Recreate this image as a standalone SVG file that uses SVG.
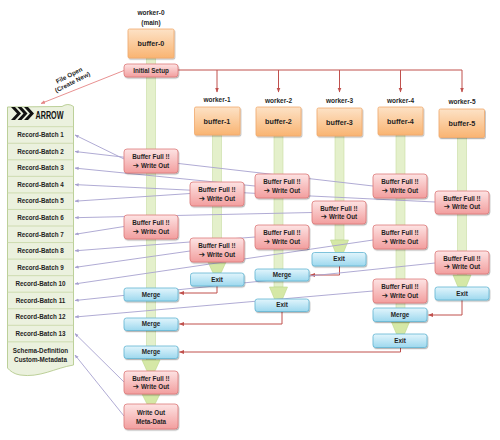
<svg xmlns="http://www.w3.org/2000/svg" width="500" height="440" viewBox="0 0 500 440">
<defs>
<style>
.lane{fill:#E4F0CB;stroke:#C8DDA0;stroke-width:0.6}
.head{fill:#D5E8A6;stroke:#BCD68A;stroke-width:0.6}
.buf rect{fill:url(#gO);stroke:#F0A86C;stroke-width:0.8;filter:url(#sh)}
.bf rect{fill:url(#gP);stroke:#DC7A7A;stroke-width:0.8;filter:url(#sh)}
.bl rect{fill:url(#gB);stroke:#5FB4D2;stroke-width:0.8;filter:url(#sh)}
.t{font-family:"Liberation Sans","DejaVu Sans",sans-serif;font-weight:bold;font-size:6.3px;fill:#1F1F1F;text-anchor:middle}
.tb{font-family:"Liberation Sans","DejaVu Sans",sans-serif;font-weight:bold;font-size:7.2px;fill:#1F1F1F;text-anchor:middle}
.tw{font-family:"Liberation Sans","DejaVu Sans",sans-serif;font-weight:bold;font-size:6.5px;fill:#1F1F1F;text-anchor:middle}
.ico{font-family:"DejaVu Sans",sans-serif;font-size:7.5px}
.red{stroke:#C0504D;stroke-width:1;fill:none}
.lav{stroke:#A7A1CF;stroke-width:0.9;fill:none}
.sep{stroke:#C6D7A4;stroke-width:0.8}
</style>
<linearGradient id="gO" x1="0" y1="0" x2="0" y2="1"><stop offset="0" stop-color="#FDE2C6"/><stop offset="1" stop-color="#F9B472"/></linearGradient>
<linearGradient id="gP" x1="0" y1="0" x2="0" y2="1"><stop offset="0" stop-color="#FDE3E3"/><stop offset="1" stop-color="#F29E9E"/></linearGradient>
<linearGradient id="gB" x1="0" y1="0" x2="0" y2="1"><stop offset="0" stop-color="#E2F5FC"/><stop offset="1" stop-color="#9DD8EE"/></linearGradient>
<filter id="sh" x="-10%" y="-20%" width="130%" height="170%"><feDropShadow dx="0.8" dy="1.2" stdDeviation="0.7" flood-color="#000" flood-opacity="0.3"/></filter>
<marker id="ar" viewBox="0 0 10 10" refX="9" refY="5" markerWidth="5" markerHeight="5" orient="auto"><path d="M0,1 L10,5 L0,9 z" fill="#C0504D"/></marker>
<marker id="ap" viewBox="0 0 10 10" refX="9" refY="5" markerWidth="5" markerHeight="5" orient="auto"><path d="M0,1 L10,5 L0,9 z" fill="#E58585"/></marker>
<marker id="al" viewBox="0 0 10 10" refX="9" refY="5" markerWidth="4.5" markerHeight="4.5" orient="auto"><path d="M0,1 L10,5 L0,9 z" fill="#A7A1CF"/></marker>
</defs>
<rect x="0" y="0" width="500" height="440" fill="#FFFFFF"/>

<g id="lanes">
<rect class="lane" x="146.5" y="58" width="9" height="302"/>
<polygon class="head" points="142,360 160,360 155,371 147,371"/>
<polygon class="head" points="142,394 160,394 155,404 147,404"/>
<rect class="lane" x="212.5" y="135" width="9" height="127"/>
<polygon class="head" points="208,262 226,262 221,273 213,273"/>
<rect class="lane" x="274" y="136" width="9" height="151"/>
<polygon class="head" points="269.5,287 287.5,287 282.5,299 274.5,299"/>
<rect class="lane" x="335" y="136" width="9" height="104"/>
<polygon class="head" points="330.5,240 348.5,240 343.5,252.5 335.5,252.5"/>
<rect class="lane" x="396" y="135" width="9" height="187"/>
<polygon class="head" points="391.5,322 409.5,322 404.5,334 396.5,334"/>
<rect class="lane" x="457.5" y="137" width="9" height="138"/>
<polygon class="head" points="453,275 471,275 466,287 458,287"/>
</g>

<g id="arrow-file">
<path d="M7.5,107 L62,106.5 Q68,102.5 73.5,106.5 L73.5,365 C55,368 40,378 20,375 C14,374 10,371 7.5,368 Z" fill="#EBF1DE" stroke="#B5CB8E" stroke-width="0.9"/>
<polygon points="11,107 15,107 21,113.5 15,120 11,120 17,113.5" fill="#111"/>
<polygon points="17.5,107 21.5,107 27.5,113.5 21.5,120 17.5,120 23.5,113.5" fill="#111"/>
<polygon points="24,107 28,107 34,113.5 28,120 24,120 30,113.5" fill="#111"/>
<text x="35.5" y="119" font-family="'Liberation Sans','DejaVu Sans',sans-serif" font-weight="bold" font-size="10.5" fill="#111" textLength="28" lengthAdjust="spacingAndGlyphs">ARROW</text>
<line class="sep" x1="7.5" y1="126.7" x2="73.5" y2="126.7"/>
<line class="sep" x1="7.5" y1="143.25" x2="73.5" y2="143.25"/>
<line class="sep" x1="7.5" y1="159.8" x2="73.5" y2="159.8"/>
<line class="sep" x1="7.5" y1="176.35" x2="73.5" y2="176.35"/>
<line class="sep" x1="7.5" y1="192.9" x2="73.5" y2="192.9"/>
<line class="sep" x1="7.5" y1="209.45" x2="73.5" y2="209.45"/>
<line class="sep" x1="7.5" y1="226" x2="73.5" y2="226"/>
<line class="sep" x1="7.5" y1="242.55" x2="73.5" y2="242.55"/>
<line class="sep" x1="7.5" y1="259.1" x2="73.5" y2="259.1"/>
<line class="sep" x1="7.5" y1="275.65" x2="73.5" y2="275.65"/>
<line class="sep" x1="7.5" y1="292.2" x2="73.5" y2="292.2"/>
<line class="sep" x1="7.5" y1="308.75" x2="73.5" y2="308.75"/>
<line class="sep" x1="7.5" y1="325.3" x2="73.5" y2="325.3"/>
<line class="sep" x1="7.5" y1="341.85" x2="73.5" y2="341.85"/>
<text class="t" x="40.5" y="137.2">Record-Batch 1</text>
<text class="t" x="40.5" y="153.7">Record-Batch 2</text>
<text class="t" x="40.5" y="170.3">Record-Batch 3</text>
<text class="t" x="40.5" y="186.8">Record-Batch 4</text>
<text class="t" x="40.5" y="203.4">Record-Batch 5</text>
<text class="t" x="40.5" y="219.9">Record-Batch 6</text>
<text class="t" x="40.5" y="236.5">Record-Batch 7</text>
<text class="t" x="40.5" y="253">Record-Batch 8</text>
<text class="t" x="40.5" y="269.6">Record-Batch 9</text>
<text class="t" x="40.5" y="286.1">Record-Batch 10</text>
<text class="t" x="40.5" y="302.7">Record-Batch 11</text>
<text class="t" x="40.5" y="319.2">Record-Batch 12</text>
<text class="t" x="40.5" y="335.8">Record-Batch 13</text>
<text class="t" x="40.5" y="353.2">Schema-Definition</text>
<text class="t" x="40.5" y="361.9">Custom-Metadata</text>
</g>

<g id="connectors">
<path class="red" d="M178,70 H462 V92" marker-end="url(#ar)"/>
<path class="red" d="M217,70 V92" marker-end="url(#ar)"/>
<path class="red" d="M278.5,70 V92" marker-end="url(#ar)"/>
<path class="red" d="M339.5,70 V92" marker-end="url(#ar)"/>
<path class="red" d="M400.5,70 V92" marker-end="url(#ar)"/>
<path class="red" d="M217,286 V293 H179.5" marker-end="url(#ar)"/>
<path class="red" d="M339.5,266 V275 H310.5" marker-end="url(#ar)"/>
<path class="red" d="M282,311.5 V324 H179.5" marker-end="url(#ar)"/>
<path class="red" d="M462,300 V315 H428.5" marker-end="url(#ar)"/>
<path class="red" d="M400.5,347.5 V352 H179.5" marker-end="url(#ar)"/>
<path d="M124,70.5 L41,103.5" stroke="#E58585" stroke-width="0.9" fill="none" marker-end="url(#ap)"/>
<g transform="translate(70.8,78.7) rotate(-27)">
<text class="t" x="0" y="-1.6">File Open</text>
<text class="t" x="0" y="6">(Create New)</text>
</g>
<path class="lav" d="M124,159 L75,135" marker-end="url(#al)"/>
<path class="lav" d="M373,186 L75,151.5" marker-end="url(#al)"/>
<path class="lav" d="M255,186 L75,168.1" marker-end="url(#al)"/>
<path class="lav" d="M435,202 L75,184.6" marker-end="url(#al)"/>
<path class="lav" d="M190,193.5 L75,201.2" marker-end="url(#al)"/>
<path class="lav" d="M312,212.5 L75,217.7" marker-end="url(#al)"/>
<path class="lav" d="M124,226.5 L75,234.3" marker-end="url(#al)"/>
<path class="lav" d="M255,237 L75,250.8" marker-end="url(#al)"/>
<path class="lav" d="M190,251 L75,267.4" marker-end="url(#al)"/>
<path class="lav" d="M373,240 L75,283.9" marker-end="url(#al)"/>
<path class="lav" d="M435,263 L75,300.5" marker-end="url(#al)"/>
<path class="lav" d="M373,291 L75,317" marker-end="url(#al)"/>
<path class="lav" d="M124,382 L75,333.6" marker-end="url(#al)"/>
<path class="lav" d="M124,416 L75,355" marker-end="url(#al)"/>
</g>

<g id="worker-0" class="buf">
<text class="tw" x="151" y="15.3">worker-0</text>
<text class="tw" x="151" y="24.6">(main)</text>
<rect x="128" y="29" width="46" height="29" rx="1.5"/>
<text class="tb" x="151" y="46.1">buffer-0</text>
</g>
<g id="worker-1" class="buf">
<text class="tw" x="217" y="102.3">worker-1</text>
<rect x="194.5" y="107" width="45.5" height="28" rx="1.5"/>
<text class="tb" x="217" y="123.6">buffer-1</text>
</g>
<g id="worker-2" class="buf">
<text class="tw" x="278.5" y="103.3">worker-2</text>
<rect x="256" y="107" width="45" height="29" rx="1.5"/>
<text class="tb" x="278.5" y="124.1">buffer-2</text>
</g>
<g id="worker-3" class="buf">
<text class="tw" x="339.5" y="103.3">worker-3</text>
<rect x="317" y="108" width="45" height="28" rx="1.5"/>
<text class="tb" x="339.5" y="124.6">buffer-3</text>
</g>
<g id="worker-4" class="buf">
<text class="tw" x="400.5" y="103.3">worker-4</text>
<rect x="378" y="107" width="45" height="28" rx="1.5"/>
<text class="tb" x="400.5" y="123.6">buffer-4</text>
</g>
<g id="worker-5" class="buf">
<text class="tw" x="462" y="104.3">worker-5</text>
<rect x="439" y="109" width="45.5" height="28.5" rx="1.5"/>
<text class="tb" x="462" y="125.6">buffer-5</text>
</g>

<g id="initial-setup" class="bf"><rect x="124" y="64" width="54" height="13" rx="3"/><text class="t" x="151" y="72.7">Initial Setup</text></g>

<g id="bf-w0-1" class="bf"><rect x="124" y="149" width="54" height="24" rx="3"/><text class="t" x="151" y="158.8">Buffer Full !!</text><text class="t" x="151" y="167.8"><tspan class="ico">➔</tspan> Write Out</text></g>
<g id="bf-w1-1" class="bf"><rect x="190" y="182" width="54" height="24" rx="3"/><text class="t" x="217" y="191.8">Buffer Full !!</text><text class="t" x="217" y="200.8"><tspan class="ico">➔</tspan> Write Out</text></g>
<g id="bf-w2-1" class="bf"><rect x="255" y="174" width="54" height="24" rx="3"/><text class="t" x="282" y="183.8">Buffer Full !!</text><text class="t" x="282" y="192.8"><tspan class="ico">➔</tspan> Write Out</text></g>
<g id="bf-w4-1" class="bf"><rect x="373" y="174" width="54" height="24" rx="3"/><text class="t" x="400" y="183.8">Buffer Full !!</text><text class="t" x="400" y="192.8"><tspan class="ico">➔</tspan> Write Out</text></g>
<g id="bf-w5-1" class="bf"><rect x="435" y="191" width="54" height="23" rx="3"/><text class="t" x="462" y="200.5">Buffer Full !!</text><text class="t" x="462" y="209.3"><tspan class="ico">➔</tspan> Write Out</text></g>
<g id="bf-w3-1" class="bf"><rect x="312" y="201" width="54" height="23" rx="3"/><text class="t" x="339" y="210.5">Buffer Full !!</text><text class="t" x="339" y="219.3"><tspan class="ico">➔</tspan> Write Out</text></g>
<g id="bf-w0-2" class="bf"><rect x="124" y="215" width="54" height="24" rx="3"/><text class="t" x="151" y="224.8">Buffer Full !!</text><text class="t" x="151" y="233.8"><tspan class="ico">➔</tspan> Write Out</text></g>
<g id="bf-w2-2" class="bf"><rect x="255" y="225" width="54" height="24" rx="3"/><text class="t" x="282" y="234.8">Buffer Full !!</text><text class="t" x="282" y="243.8"><tspan class="ico">➔</tspan> Write Out</text></g>
<g id="bf-w4-2" class="bf"><rect x="373" y="225" width="54" height="24" rx="3"/><text class="t" x="400" y="234.8">Buffer Full !!</text><text class="t" x="400" y="243.8"><tspan class="ico">➔</tspan> Write Out</text></g>
<g id="bf-w1-2" class="bf"><rect x="190" y="238" width="54" height="24" rx="3"/><text class="t" x="217" y="247.8">Buffer Full !!</text><text class="t" x="217" y="256.8"><tspan class="ico">➔</tspan> Write Out</text></g>
<g id="bf-w5-2" class="bf"><rect x="435" y="251" width="54" height="23" rx="3"/><text class="t" x="462" y="260.5">Buffer Full !!</text><text class="t" x="462" y="269.3"><tspan class="ico">➔</tspan> Write Out</text></g>
<g id="bf-w4-3" class="bf"><rect x="373" y="279" width="54" height="24" rx="3"/><text class="t" x="400" y="288.8">Buffer Full !!</text><text class="t" x="400" y="297.8"><tspan class="ico">➔</tspan> Write Out</text></g>
<g id="bf-w0-3" class="bf"><rect x="124" y="371" width="54" height="23" rx="3"/><text class="t" x="151" y="380.5">Buffer Full !!</text><text class="t" x="151" y="389.3"><tspan class="ico">➔</tspan> Write Out</text></g>
<g id="write-meta" class="bf"><rect x="124" y="404" width="54" height="25" rx="3"/><text class="t" x="151" y="414.9">Write Out</text><text class="t" x="151" y="423.9">Meta-Data</text></g>

<g id="exit-1" class="bl"><rect x="190.5" y="273" width="53.5" height="13" rx="2.5"/><text class="t" x="217" y="281.7">Exit</text></g>
<g id="merge-w2" class="bl"><rect x="255" y="269" width="54" height="12" rx="2.5"/><text class="t" x="282" y="277.2">Merge</text></g>
<g id="exit-2" class="bl"><rect x="255" y="299" width="54" height="12.5" rx="2.5"/><text class="t" x="282" y="307.4">Exit</text></g>
<g id="exit-3" class="bl"><rect x="312" y="252.5" width="54" height="13.5" rx="2.5"/><text class="t" x="339" y="261.4">Exit</text></g>
<g id="exit-5" class="bl"><rect x="435" y="287" width="54" height="13" rx="2.5"/><text class="t" x="462" y="295.7">Exit</text></g>
<g id="merge-w4" class="bl"><rect x="373" y="308" width="54" height="13.5" rx="2.5"/><text class="t" x="400" y="316.9">Merge</text></g>
<g id="exit-4" class="bl"><rect x="373" y="334" width="54" height="13.5" rx="2.5"/><text class="t" x="400" y="342.9">Exit</text></g>
<g id="merge-1" class="bl"><rect x="124" y="288" width="54" height="13" rx="2.5"/><text class="t" x="151" y="296.7">Merge</text></g>
<g id="merge-2" class="bl"><rect x="124" y="318" width="54" height="12.5" rx="2.5"/><text class="t" x="151" y="326.4">Merge</text></g>
<g id="merge-3" class="bl"><rect x="124" y="346" width="54" height="12.5" rx="2.5"/><text class="t" x="151" y="354.4">Merge</text></g>
</svg>
